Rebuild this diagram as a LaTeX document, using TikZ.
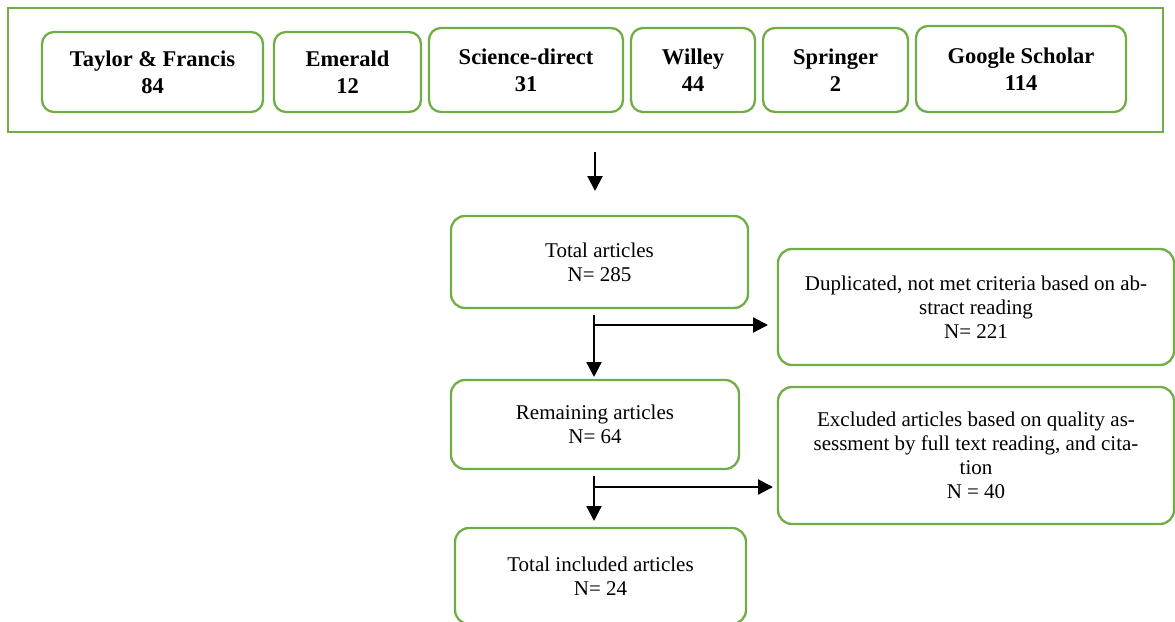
\documentclass[tikz,border=0pt]{standalone}
\usepackage{fontspec}
\setmainfont{Liberation Serif}
\usetikzlibrary{arrows.meta}
\definecolor{bgreen}{RGB}{112,173,71}
\tikzset{
  src/.style={draw=bgreen, line width=2.3pt, rounded corners=12pt, inner sep=0pt, align=center,
    font=\fontsize{22.5}{27}\selectfont\bfseries},
  stage/.style={draw=bgreen, line width=2.3pt, rounded corners=14pt, inner sep=0pt, align=center,
    font=\fontsize{21}{24}\selectfont},
  frame/.style={draw=bgreen, line width=2.8pt, inner sep=0pt},
  arr/.style={draw=black, line width=2.2pt, -{Triangle[length=15pt,width=15pt]}}
}
\begin{document}
\begin{tikzpicture}[x=1pt,y=-1pt]
\useasboundingbox (0,0) rectangle (1175,621);
% outer frame
\node[frame, minimum width=1155pt, minimum height=124pt] (outer) at (585.5,70) {};
% sources
\node[src, minimum width=221pt, minimum height=80pt] (tf) at (152.5,72) {Taylor \& Francis\\84};
\node[src, minimum width=147pt, minimum height=80pt] (em) at (347.5,72) {Emerald\\12};
\node[src, minimum width=194pt, minimum height=84pt] (sd) at (526,70) {Science-direct\\31};
\node[src, minimum width=124pt, minimum height=84pt] (wi) at (693,70) {Willey\\44};
\node[src, minimum width=145pt, minimum height=84pt] (sp) at (835.5,70) {Springer\\2};
\node[src, minimum width=210pt, minimum height=86pt] (gs) at (1021,69) {Google Scholar\\114};
% stages
\node[stage, minimum width=297pt, minimum height=92pt] (total) at (599.5,262) {Total articles\\N= 285};
\node[stage, minimum width=396pt, minimum height=116pt] (dup) at (976,307) {Duplicated, not met criteria based on ab-\\stract reading\\N= 221};
\node[stage, minimum width=288pt, minimum height=89pt] (rem) at (595,424.5) {Remaining articles\\N= 64};
\node[stage, minimum width=396pt, minimum height=137pt] (exc) at (976,455.5) {Excluded articles based on quality as-\\sessment by full text reading, and cita-\\tion\\N = 40};
\node[stage, minimum width=291pt, minimum height=96pt] (inc) at (600.5,576) {Total included articles\\N= 24};
% connectors
\coordinate (a1s) at (595,152);
\coordinate (a1e) at (595,191);
\draw[arr] (a1s) -- (a1e);
\coordinate (a2s) at (594,315);
\coordinate (a2e) at (594,377);
\coordinate (a2h) at (594,325);
\coordinate (a2r) at (768,325);
\draw[arr] (a2s) -- (a2e);
\draw[arr] (a2h) -- (a2r);
\coordinate (a3s) at (594,476);
\coordinate (a3e) at (594,521);
\coordinate (a3h) at (595,487);
\coordinate (a3r) at (773,487);
\draw[arr] (a3s) -- (a3e);
\draw[arr] (a3h) -- (a3r);
\end{tikzpicture}
\end{document}
